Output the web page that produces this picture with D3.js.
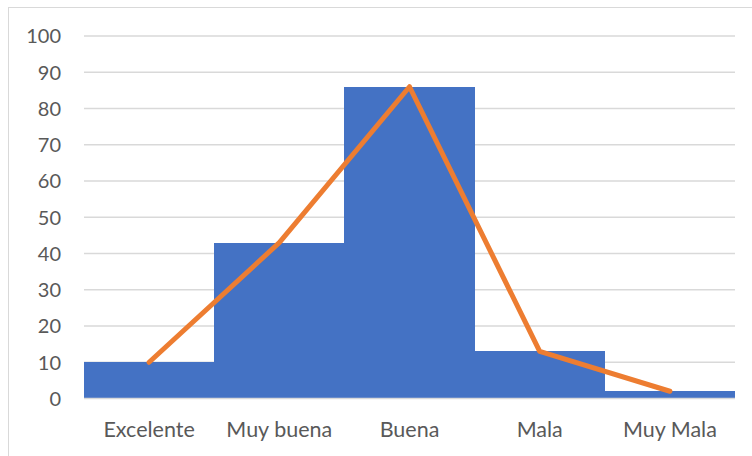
<!DOCTYPE html>
<html>
<head>
<meta charset="utf-8">
<script src="https://cdn.jsdelivr.net/npm/d3@7"></script>
<style>
  html, body { margin: 0; padding: 0; background: #fff; }
  svg { display: block; }
</style>
</head>
<body>
<svg id="chart" width="752" height="456"></svg>
<script>
// Calificaciones y frecuencias
const categories = ["Excelente", "Muy buena", "Buena", "Mala", "Muy Mala"];
const barValues = [10, 43, 86, 13, 2];
const lineValues = [10, 43, 86, 13, 2];
const yTicks = [0, 10, 20, 30, 40, 50, 60, 70, 80, 90, 100];

const svg = d3.select("#chart");
const W = 752, H = 456;
const plot = { left: 84, right: 735, top: 36, bottom: 398.5 };

// Chart frame
svg.append("rect")
  .attr("x", 8.5).attr("y", 7.5)
  .attr("width", W).attr("height", H)
  .attr("fill", "#fff").attr("stroke", "#d9d9d9").attr("stroke-width", 1);

const x = d3.scaleBand().domain(categories).range([plot.left, plot.right]).padding(0);
const y = d3.scaleLinear().domain([0, 100]).range([plot.bottom, plot.top]);

// Gridlines
svg.append("g").selectAll("line").data(yTicks.filter(d => d > 0)).join("line")
  .attr("x1", plot.left).attr("x2", plot.right)
  .attr("y1", d => y(d)).attr("y2", d => y(d))
  .attr("stroke", "#d9d9d9").attr("stroke-width", 1.5);

// Bars (touching, no gap)
svg.append("g").selectAll("rect").data(categories).join("rect")
  .attr("x", d => Math.round(x(d)))
  .attr("width", d => Math.round(x(d) + x.bandwidth()) - Math.round(x(d)))
  .attr("y", (d, i) => y(barValues[i]))
  .attr("height", (d, i) => y(0) - y(barValues[i]))
  .attr("fill", "#4472c4")
  .attr("shape-rendering", "crispEdges");

// Baseline
svg.append("line")
  .attr("x1", plot.left).attr("x2", plot.right)
  .attr("y1", y(0)).attr("y2", y(0))
  .attr("stroke", "#d9d9d9").attr("stroke-width", 1.5);

// Line series
const line = d3.line()
  .x((d, i) => x(categories[i]) + x.bandwidth() / 2)
  .y(d => y(d));
svg.append("path").datum(lineValues)
  .attr("d", line)
  .attr("fill", "none")
  .attr("stroke", "#ed7d31")
  .attr("stroke-width", 5)
  .attr("stroke-linejoin", "round")
  .attr("stroke-linecap", "round");

// Y axis labels
const yAxis = d3.axisLeft(y).tickValues(yTicks).tickSize(0).tickPadding(0);
const gy = svg.append("g").attr("transform", `translate(61,0.5)`).call(yAxis);
gy.select(".domain").remove();
gy.selectAll("text")
  .attr("font-family", "Lato, 'Open Sans', sans-serif")
  .attr("font-size", 20)
  .attr("fill", "#595959");

// X axis labels
const xAxis = d3.axisBottom(x).tickSize(0).tickPadding(0);
const gx = svg.append("g").attr("transform", `translate(0,${plot.bottom + 23})`).call(xAxis);
gx.select(".domain").remove();
gx.selectAll("text")
  .attr("font-family", "Lato, 'Open Sans', sans-serif")
  .attr("font-size", 21.5)
  .attr("fill", "#595959");
</script>
</body>
</html>
